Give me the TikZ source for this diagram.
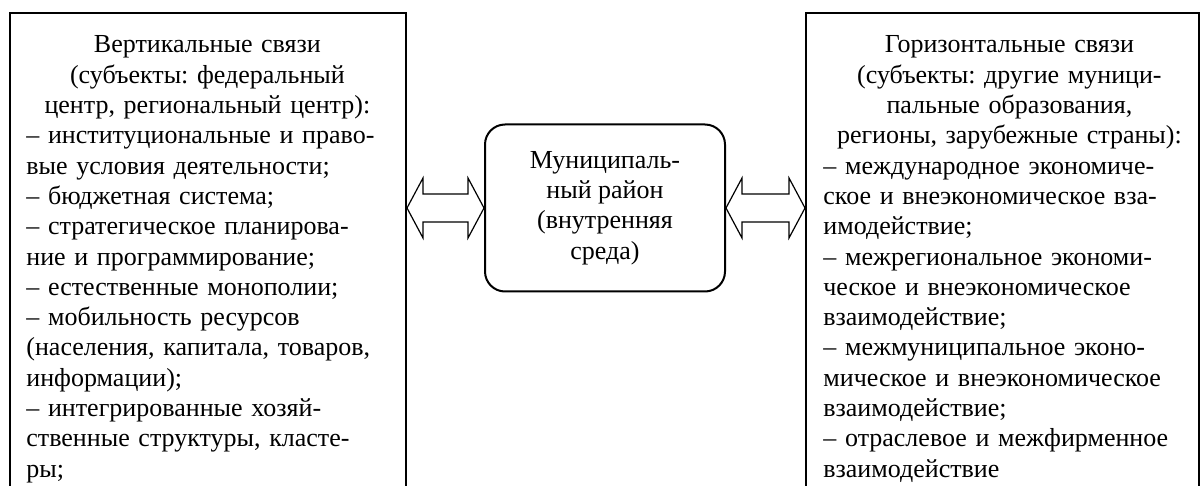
\documentclass[tikz,border=0pt]{standalone}
\usepackage{fontspec}
\setmainfont{Liberation Serif}
\usetikzlibrary{calc}
\frenchspacing

\tikzset{
  panel/.style={draw, line width=1pt, inner sep=0pt, anchor=north west, minimum height=260pt},
  body/.style={anchor=base west, inner sep=0pt, font=\fontsize{13}{15.15}\selectfont},
  hub/.style={draw, line width=1pt, rounded corners=10pt, minimum width=120pt,
    minimum height=83.5pt, inner sep=0pt, align=center, font=\fontsize{13}{15.15}\selectfont},
  blockarrow/.style={draw, line width=0.6pt, fill=white, line join=miter}
}

% outlined two-headed block arrow between two points on one level
\newcommand\twoway[2]{%
  \draw[blockarrow] let \p1=(#1), \p2=(#2) in
    (\x1,\y1) -- (\x1+8pt,\y1+15pt) -- (\x1+8pt,\y1+7pt) -- (\x2-8pt,\y1+7pt)
    -- (\x2-8pt,\y1+15pt) -- (\x2,\y1) -- (\x2-8pt,\y1-15pt) -- (\x2-8pt,\y1-7pt)
    -- (\x1+8pt,\y1-7pt) -- (\x1+8pt,\y1-15pt) -- cycle;}

\begin{document}
\begin{tikzpicture}[x=0.5pt,y=-0.5pt]
\useasboundingbox (0,0) rectangle (1200,486);
\clip (0,0) rectangle (1200,486);

% outer panels, open towards the bottom edge
\node[panel, minimum width=198pt] (vert) at (9,12) {};
\node[panel, minimum width=196.5pt] (horiz) at (805,12) {};

\node[body, text width=181pt] (verttext) at (26,53) {%
  {\centering Вертикальные связи\\
  (субъекты: федеральный\\
  центр, региональный центр):\par}
  \raggedright
  – институциональные и право-\\
  вые условия деятельности;\\
  – бюджетная система;\\
  – стратегическое планирова-\\
  ние и программирование;\\
  – естественные монополии;\\
  – мобильность ресурсов\\
  (населения, капитала, товаров,\\
  информации);\\
  – интегрированные хозяй-\\
  ственные структуры, класте-\\
  ры;};

\node[body, text width=186pt] (horiztext) at (823,53) {%
  {\centering Горизонтальные связи\\
  (субъекты: другие муници-\\
  пальные образования,\\
  регионы, зарубежные страны):\par}
  \raggedright
  – международное экономиче-\\
  ское и внеэкономическое вза-\\
  имодействие;\\
  – межрегиональное экономи-\\
  ческое и внеэкономическое\\
  взаимодействие;\\
  – межмуниципальное эконо-\\
  мическое и внеэкономическое\\
  взаимодействие;\\
  – отраслевое и межфирменное\\
  взаимодействие};

\node[hub] (mun) at (605,208) {Муниципаль-\\ный район\\(внутренняя\\среда)};

\twoway{vert.east |- mun.west}{mun.west}
\twoway{mun.east}{horiz.west |- mun.east}
\end{tikzpicture}
\end{document}
